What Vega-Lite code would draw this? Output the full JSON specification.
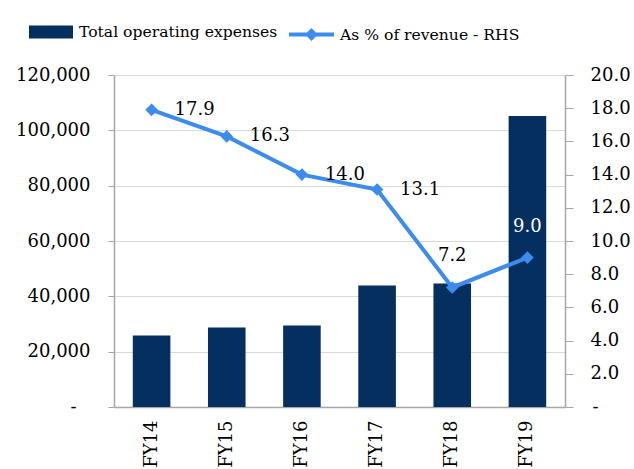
{
  "$schema": "https://vega.github.io/schema/vega-lite/v6.json",
  "autosize": {"type": "none"},
  "padding": {"left": 114, "top": 75, "right": 69, "bottom": 62},
  "width": 451,
  "height": 332,
  "background": "white",
  "config": {
    "view": {"stroke": null},
    "font": "DejaVu Serif",
    "axis": {
      "labelFont": "DejaVu Serif",
      "labelFontSize": 18,
      "labelColor": "#000000",
      "domainColor": "#a6a6a6",
      "tickColor": "#a6a6a6",
      "gridColor": "#d9d9d9",
      "title": null
    },
    "legend": {"labelFont": "DejaVu Serif", "labelFontSize": 15.6, "labelColor": "#000000", "padding": 0, "labelLimit": 600}
  },
  "data": {
    "values": [
      {"year": "FY14", "opex": 25800, "pct": 17.9},
      {"year": "FY15", "opex": 28700, "pct": 16.3},
      {"year": "FY16", "opex": 29500, "pct": 14.0},
      {"year": "FY17", "opex": 43900, "pct": 13.1},
      {"year": "FY18", "opex": 44600, "pct": 7.2},
      {"year": "FY19", "opex": 105200, "pct": 9.0}
    ]
  },
  "encoding": {
    "x": {
      "field": "year",
      "type": "nominal",
      "sort": null,
      "scale": {"paddingInner": 0.5, "paddingOuter": 0.25},
      "axis": {"labelAngle": 270, "ticks": false, "labelPadding": 13, "domainWidth": 1.5}
    }
  },
  "layer": [
    {
      "mark": {"type": "bar", "stroke": null},
      "encoding": {
        "y": {
          "field": "opex",
          "type": "quantitative",
          "scale": {"domain": [0, 120000], "nice": false},
          "axis": {
            "orient": "left",
            "values": [0, 20000, 40000, 60000, 80000, 100000, 120000],
            "labelExpr": "datum.value == 0 ? '-' : format(datum.value, ',')",
            "tickSize": 6,
            "labelPadding": {"condition": {"test": "datum.value == 0", "value": 32}, "value": 18},
            "grid": true,
            "domainWidth": 1.5
          }
        },
        "color": {
          "datum": "Total operating expenses",
          "scale": {"range": ["#052f5f"]},
          "legend": {
            "orient": "none",
            "legendX": -85,
            "legendY": -65,
            "title": null,
            "symbolType": "M-1,-0.3H1V0.3H-1Z",
            "symbolSize": 1936,
            "symbolStrokeWidth": 0,
            "labelOffset": 6
          }
        }
      }
    },
    {
      "encoding": {
        "y": {
          "field": "pct",
          "type": "quantitative",
          "scale": {"domain": [0, 20], "nice": false},
          "axis": {
            "orient": "right",
            "values": [0, 2, 4, 6, 8, 10, 12, 14, 16, 18, 20],
            "labelExpr": "datum.value == 0 ? '-' : format(datum.value, '.1f')",
            "tickSize": 8,
            "labelPadding": {"condition": {"test": "datum.value == 0", "value": 19}, "value": 17},
            "grid": false,
            "domainWidth": 1.5
          }
        }
      },
      "layer": [
        {
          "mark": {"type": "line", "strokeWidth": 4},
          "encoding": {
            "stroke": {
              "datum": "As % of revenue - RHS",
              "scale": {"range": ["#3b8ced"]},
              "legend": {
                "orient": "none",
                "legendX": 173,
                "legendY": -65,
                "title": null,
                "symbolType": "M-1,0H1M0,-0.16L0.16,0L0,0.16L-0.16,0Z",
                "symbolSize": 2025,
                "symbolStrokeWidth": 4,
                "labelOffset": 4
              }
            }
          }
        },
        {
          "mark": {"type": "point", "shape": "diamond", "size": 160, "filled": true, "color": "#3b8ced", "opacity": 1},
          "encoding": {}
        },
        {
          "transform": [{"filter": "indexof(['FY14','FY15','FY16','FY17'], datum.year) >= 0"}],
          "mark": {"type": "text", "align": "left", "baseline": "middle", "dx": 23, "fontSize": 18, "font": "DejaVu Serif", "color": "#000000"},
          "encoding": {"text": {"field": "pct", "type": "quantitative", "format": ".1f"}}
        },
        {
          "transform": [{"filter": "indexof(['FY18','FY19'], datum.year) >= 0"}],
          "mark": {"type": "text", "align": "center", "baseline": "middle", "dy": -31, "fontSize": 18, "font": "DejaVu Serif"},
          "encoding": {
            "text": {"field": "pct", "type": "quantitative", "format": ".1f"},
            "color": {"condition": {"test": "datum.year == 'FY19'", "value": "#ffffff"}, "value": "#000000"}
          }
        }
      ]
    }
  ],
  "resolve": {"scale": {"y": "independent", "color": "independent", "stroke": "independent"}}
}
